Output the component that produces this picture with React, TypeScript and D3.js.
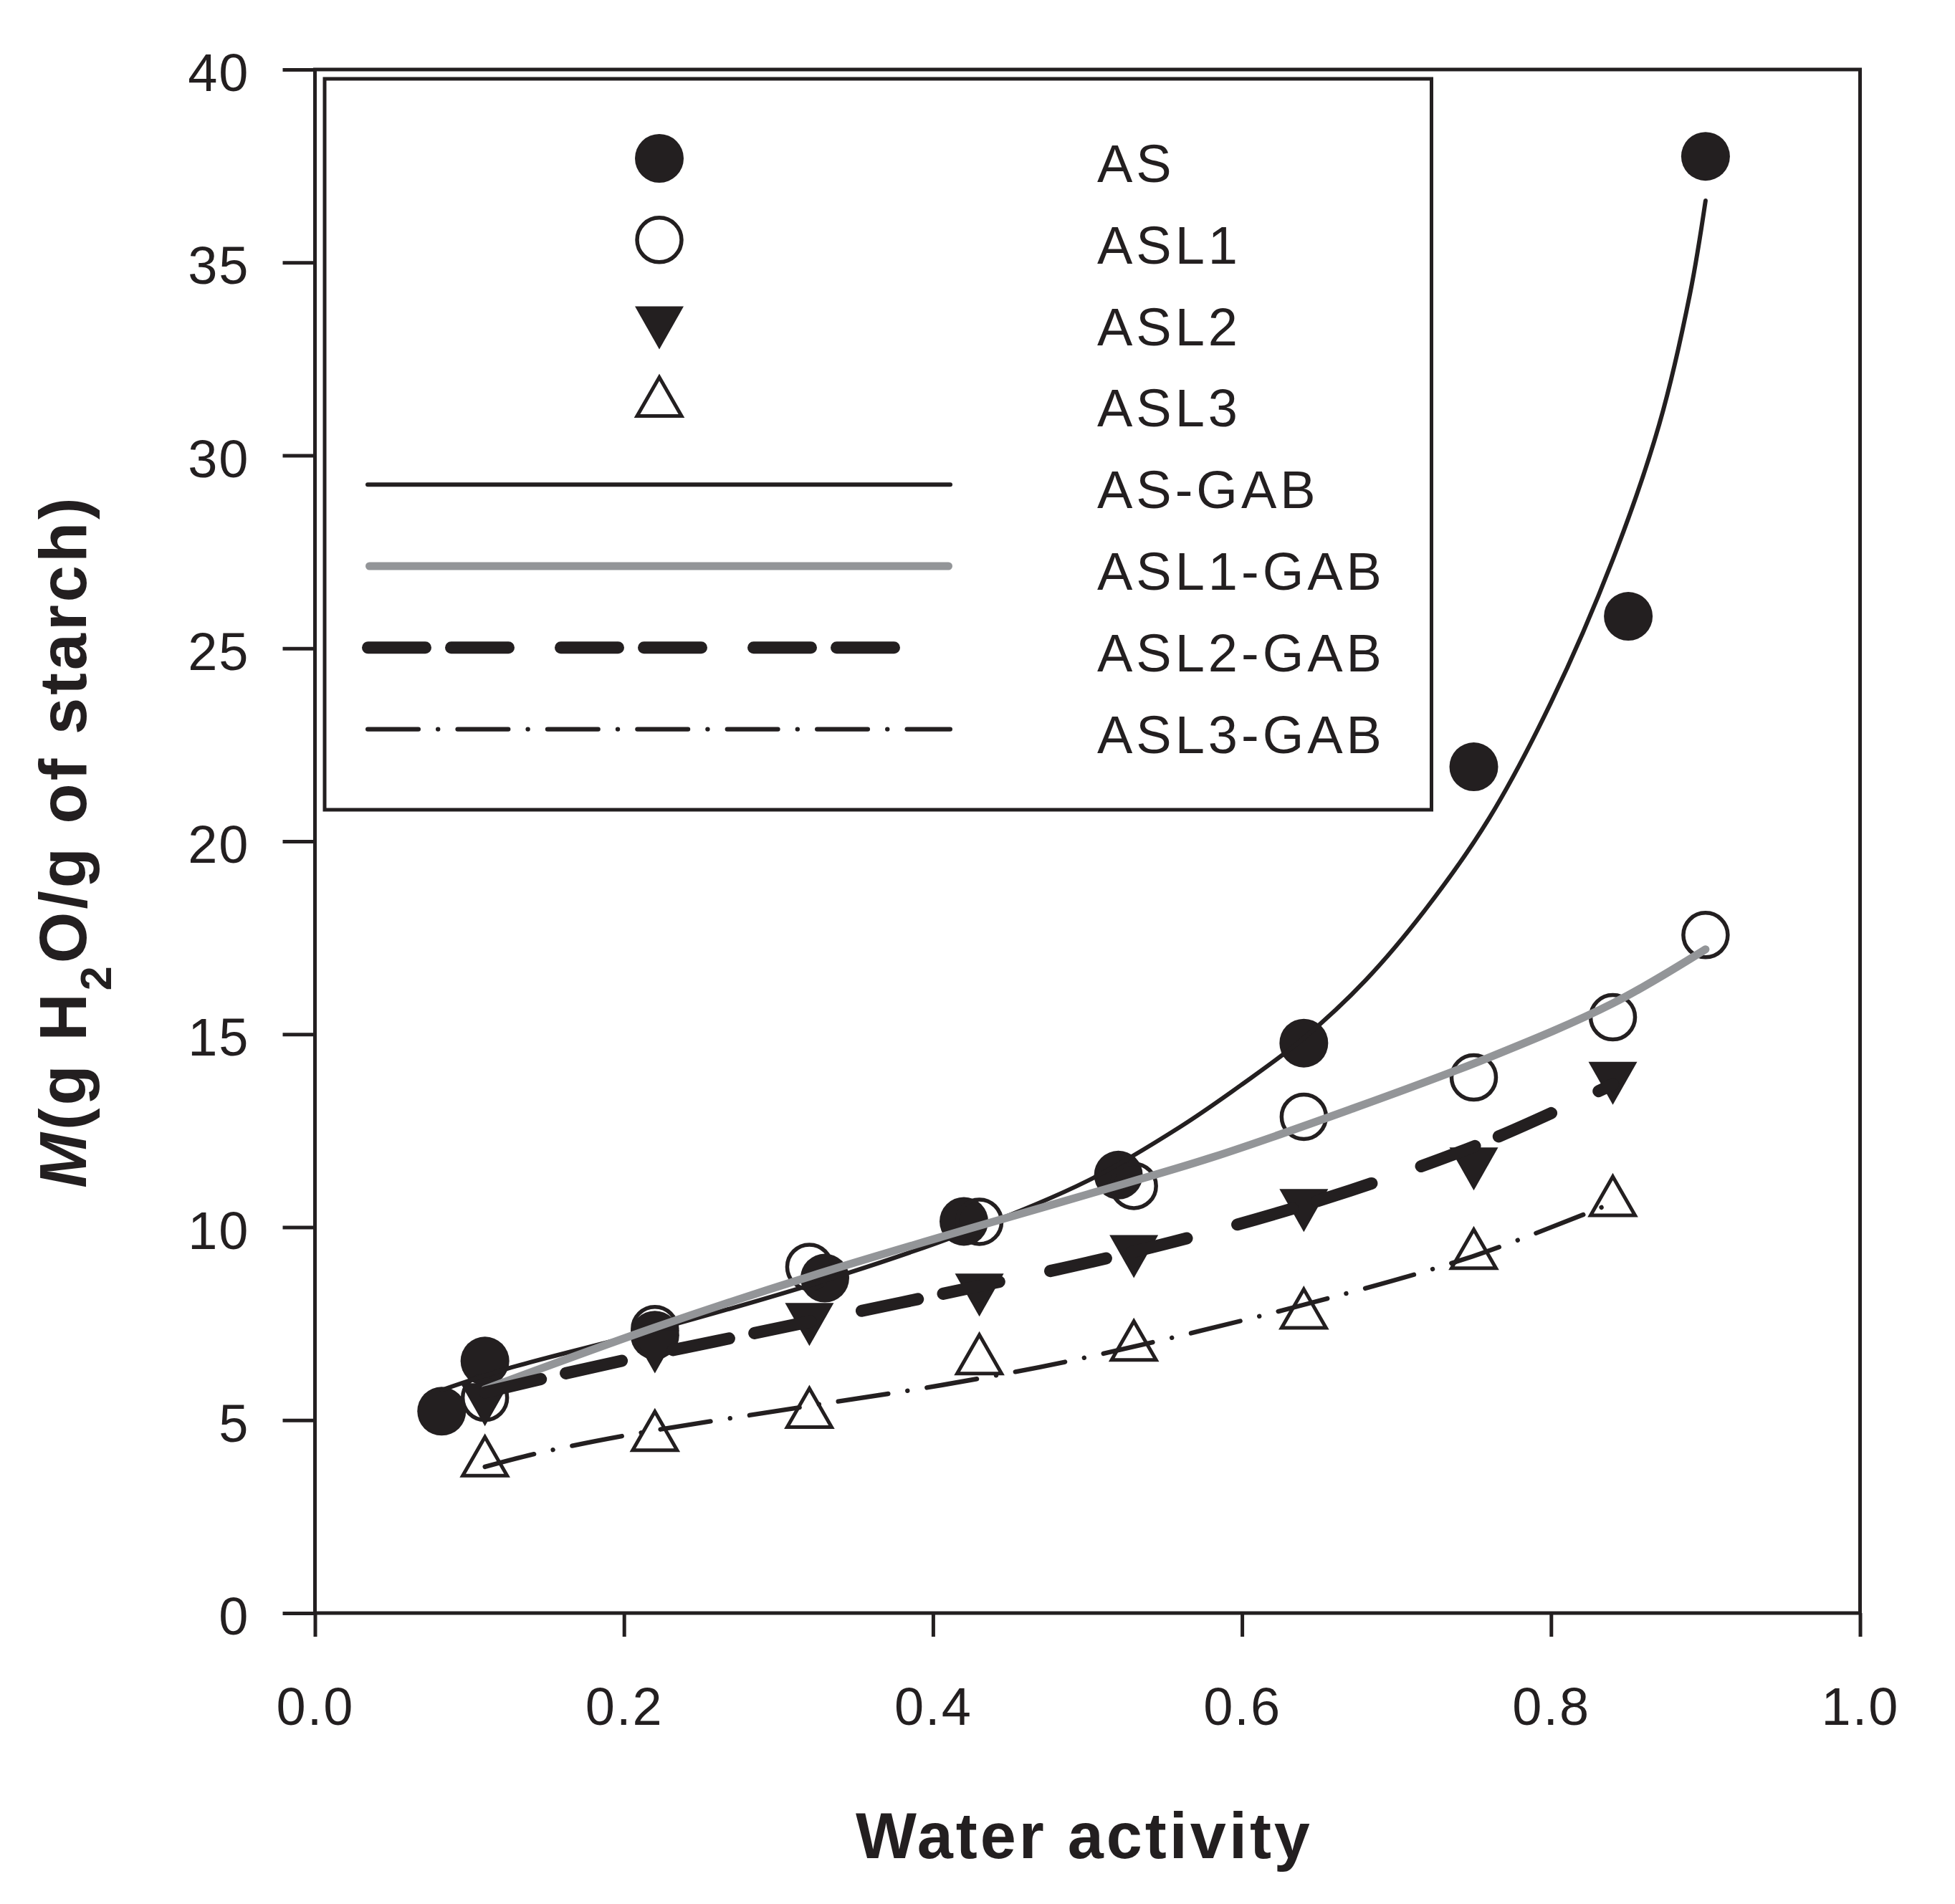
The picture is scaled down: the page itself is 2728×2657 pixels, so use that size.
import { useEffect, useRef } from 'react';
import * as d3 from 'd3';

const INK = '#231f20';
const GREY = '#939598';
const FONT = '"Liberation Sans", Arial, Helvetica, sans-serif';

// measured sorption points (water activity, M)
const AS_AW = [0.082, 0.11, 0.22, 0.33, 0.42, 0.52, 0.64, 0.75, 0.85, 0.9];
const AS_M = [5.23, 6.53, 7.2, 8.68, 10.15, 11.35, 14.77, 21.93, 25.83, 37.75];
const ASL1_AW = [0.11, 0.22, 0.32, 0.43, 0.53, 0.64, 0.75, 0.84, 0.9];
const ASL1_M = [5.58, 7.36, 8.97, 10.14, 11.07, 12.86, 13.88, 15.44, 17.57];
const ASL2_AW = [0.11, 0.22, 0.32, 0.43, 0.53, 0.64, 0.75, 0.84];
const ASL2_M = [5.4, 6.77, 7.48, 8.24, 9.24, 10.43, 11.51, 13.73];
const ASL3_AW = [0.11, 0.22, 0.32, 0.43, 0.53, 0.64, 0.75, 0.84];
const ASL3_M = [4.06, 4.72, 5.32, 6.71, 7.06, 7.89, 9.44, 10.81];

// GAB fitted curves
const AS_GAB_AW = [0.082, 0.125, 0.22, 0.33, 0.42, 0.5, 0.56, 0.6, 0.64, 0.68, 0.72, 0.76, 0.8, 0.84, 0.87, 0.89, 0.9];
const AS_GAB_M = [5.78, 6.34, 7.34, 8.62, 9.85, 11.2, 12.6, 13.7, 14.9, 16.4, 18.3, 20.6, 23.6, 27.3, 30.8, 34.2, 36.6];
const ASL1_GAB_AW = [0.11, 0.22, 0.32, 0.42, 0.5, 0.58, 0.67, 0.76, 0.84, 0.9];
const ASL1_GAB_M = [5.8, 7.4, 8.72, 9.92, 10.85, 11.8, 13.05, 14.4, 15.8, 17.2];
const ASL2_GAB_AW = [0.11, 0.15, 0.2, 0.26, 0.32, 0.38, 0.44, 0.5, 0.58, 0.67, 0.76, 0.84];
const ASL2_GAB_M = [5.72, 6.1, 6.55, 7.05, 7.55, 8.05, 8.56, 9.08, 9.88, 10.95, 12.25, 13.7];
const ASL3_GAB_AW = [0.11, 0.144, 0.202, 0.317, 0.406, 0.495, 0.64, 0.749, 0.838];
const ASL3_GAB_M = [3.79, 4.14, 4.61, 5.35, 5.91, 6.59, 7.99, 9.24, 10.6];

const X_TICKS = [0, 0.2, 0.4, 0.6, 0.8, 1.0];
const Y_TICKS = [0, 5, 10, 15, 20, 25, 30, 35, 40];

type Marker = 'dot' | 'ring' | 'down' | 'up';

const POINT_SERIES: { name: string; aw: number[]; m: number[]; marker: Marker }[] = [
  { name: 'AS', aw: AS_AW, m: AS_M, marker: 'dot' },
  { name: 'ASL1', aw: ASL1_AW, m: ASL1_M, marker: 'ring' },
  { name: 'ASL2', aw: ASL2_AW, m: ASL2_M, marker: 'down' },
  { name: 'ASL3', aw: ASL3_AW, m: ASL3_M, marker: 'up' },
];

const LINE_SERIES = [
  { name: 'AS-GAB', aw: AS_GAB_AW, m: AS_GAB_M, color: INK, width: 6, dash: null as string | null },
  { name: 'ASL1-GAB', aw: ASL1_GAB_AW, m: ASL1_GAB_M, color: GREY, width: 11, dash: null as string | null },
  { name: 'ASL2-GAB', aw: ASL2_GAB_AW, m: ASL2_GAB_M, color: INK, width: 17, dash: '80,36,80,73' },
  { name: 'ASL3-GAB', aw: ASL3_GAB_AW, m: ASL3_GAB_M, color: INK, width: 6.4, dash: '70.6,27.4,0.01,27.4' },
];

function drawMarker(g: d3.Selection<SVGGElement, unknown, null, undefined>, kind: Marker, cx: number, cy: number) {
  if (kind === 'dot') {
    g.append('circle').attr('cx', cx).attr('cy', cy).attr('r', 34).attr('fill', INK);
  } else if (kind === 'ring') {
    g.append('circle').attr('cx', cx).attr('cy', cy).attr('r', 31)
      .attr('fill', 'none').attr('stroke', INK).attr('stroke-width', 5.5);
  } else if (kind === 'down') {
    g.append('path')
      .attr('d', `M${cx - 34},${cy - 30}L${cx + 34},${cy - 30}L${cx},${cy + 30}Z`)
      .attr('fill', INK);
  } else {
    g.append('path')
      .attr('d', `M${cx},${cy - 27}L${cx + 31},${cy + 27}L${cx - 31},${cy + 27}Z`)
      .attr('fill', 'none').attr('stroke', INK).attr('stroke-width', 5);
  }
}

export default function App() {
  const ref = useRef<SVGSVGElement>(null);

  useEffect(() => {
    if (!ref.current) return;
    const svg = d3.select(ref.current);
    svg.selectAll('*').remove();

    const x = d3.scaleLinear().domain([0, 1]).range([439.5, 2595.5]);
    const y = d3.scaleLinear().domain([0, 40]).range([2251, 97]);

    svg.append('rect').attr('width', 2728).attr('height', 2657).attr('fill', '#fff');

    // Axes
    const gx = svg.append('g').attr('transform', `translate(0,${y(0)})`)
      .call(d3.axisBottom(x).tickValues(X_TICKS).tickFormat(d3.format('.1f'))
        .tickSizeInner(33).tickSizeOuter(0).tickPadding(70));
    gx.select('.domain').remove();
    gx.selectAll('line').attr('stroke', INK).attr('stroke-width', 5);
    gx.selectAll('text').attr('fill', INK).attr('font-size', 74)
      .attr('font-family', FONT).attr('letter-spacing', 2);

    const gy = svg.append('g').attr('transform', `translate(${x(0)},0)`)
      .call(d3.axisLeft(y).tickValues(Y_TICKS).tickFormat(d3.format('d'))
        .tickSizeInner(45).tickSizeOuter(0).tickPadding(46));
    gy.select('.domain').remove();
    gy.selectAll('line').attr('stroke', INK).attr('stroke-width', 5);
    gy.selectAll('text').attr('fill', INK).attr('font-size', 74)
      .attr('font-family', FONT).attr('letter-spacing', 2).attr('dy', '0.4em');

    // Frame
    svg.append('rect')
      .attr('x', x(0)).attr('y', y(40))
      .attr('width', x(1) - x(0)).attr('height', y(0) - y(40))
      .attr('fill', 'none').attr('stroke', INK).attr('stroke-width', 5);

    // Legend box
    const lg = svg.append('g');
    lg.append('rect').attr('x', 453).attr('y', 110).attr('width', 1544.5).attr('height', 1020)
      .attr('fill', '#fff').attr('stroke', INK).attr('stroke-width', 5);

    // Symbols
    const pts = svg.append('g');
    POINT_SERIES.forEach(s => {
      s.aw.forEach((a, i) => drawMarker(pts, s.marker, x(a), y(s.m[i])));
    });

    // Fitted curves
    LINE_SERIES.forEach(s => {
      const line = d3.line<number>()
        .x(a => x(a))
        .y((_, i) => y(s.m[i]))
        .curve(d3.curveCatmullRom.alpha(0.5));
      const p = svg.append('path')
        .datum(s.aw)
        .attr('d', line)
        .attr('fill', 'none')
        .attr('stroke', s.color)
        .attr('stroke-width', s.width)
        .attr('stroke-linecap', 'round')
        .attr('stroke-linejoin', 'round');
      if (s.dash) p.attr('stroke-dasharray', s.dash);
    });

    // Legend entries
    const rowBase = (k: number) => 254 + k * 113.8;
    const markerOffset: Record<Marker, number> = { dot: 33, ring: 33, down: 24, up: 42 };
    POINT_SERIES.forEach((s, k) => {
      drawMarker(lg, s.marker, 920, rowBase(k) - markerOffset[s.marker]);
      lg.append('text').attr('x', 1531).attr('y', rowBase(k))
        .attr('font-family', FONT).attr('font-size', 74).attr('letter-spacing', 5)
        .attr('fill', INK).text(s.name);
    });
    LINE_SERIES.forEach((s, j) => {
      const k = j + 4;
      const ly = rowBase(k) - 33;
      const x1 = s.dash && s.width > 10 ? 513.5 : 510 + s.width / 2;
      const x2 = s.dash && s.width > 10 ? 1255.5 : 1329 - s.width / 2;
      const l = lg.append('line').attr('x1', x1).attr('x2', x2).attr('y1', ly).attr('y2', ly)
        .attr('stroke', s.color).attr('stroke-width', s.width).attr('stroke-linecap', 'round');
      if (s.dash) l.attr('stroke-dasharray', s.dash);
      lg.append('text').attr('x', 1531).attr('y', rowBase(k))
        .attr('font-family', FONT).attr('font-size', 74).attr('letter-spacing', 5)
        .attr('fill', INK).text(s.name);
    });

    // Axis titles
    svg.append('text')
      .attr('x', 1513).attr('y', 2593)
      .attr('text-anchor', 'middle')
      .attr('font-family', FONT).attr('font-size', 90).attr('font-weight', 'bold')
      .attr('letter-spacing', 4).attr('fill', INK)
      .text('Water activity');

    const yt = svg.append('text')
      .attr('transform', `translate(120,${(y(0) + y(40)) / 2}) rotate(-90)`)
      .attr('text-anchor', 'middle')
      .attr('font-family', FONT).attr('font-size', 92).attr('font-weight', 'bold')
      .attr('letter-spacing', 4).attr('fill', INK);
    yt.append('tspan').attr('font-style', 'italic').text('M');
    yt.append('tspan').text('(g H');
    yt.append('tspan').attr('font-size', 61).attr('dy', 35).text('2');
    yt.append('tspan').attr('dy', -35).text('O/g of starch)');
  }, []);

  return (
    <svg
      ref={ref}
      width={2728}
      height={2657}
      style={{ position: 'absolute', left: 0, top: 0, display: 'block' }}
    />
  );
}
